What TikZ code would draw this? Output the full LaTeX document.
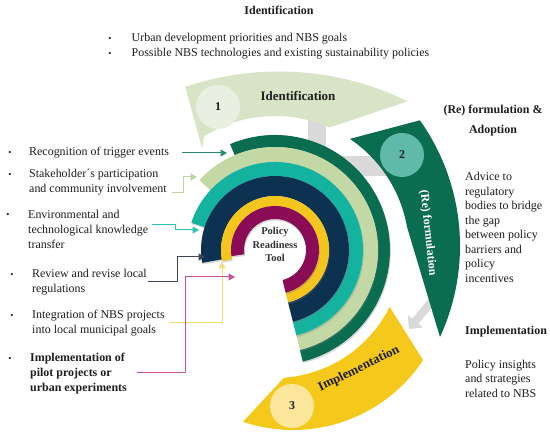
\documentclass[tikz,border=0pt]{standalone}
\usepackage{fontspec}
\setmainfont{Liberation Serif}
\usetikzlibrary{calc,arrows.meta,shadows}
\definecolor{segA}{HTML}{D7E4C5}
\definecolor{cirA}{HTML}{E9F0E1}
\definecolor{segB}{HTML}{0B6D50}
\definecolor{cirB}{HTML}{60B9A9}
\definecolor{segC}{HTML}{F5C91C}
\definecolor{cirC}{HTML}{FCE69C}
\definecolor{rDG}{HTML}{0B6D50}
\definecolor{rLG}{HTML}{C3D8A5}
\definecolor{rTE}{HTML}{13B39F}
\definecolor{rNV}{HTML}{0D3151}
\definecolor{rYE}{HTML}{F4C51D}
\definecolor{rMG}{HTML}{8B0C56}
\definecolor{aTrig}{HTML}{2A8A7A}
\definecolor{aStak}{HTML}{BBD59E}
\definecolor{aEnv}{HTML}{2DC3B0}
\definecolor{aRev}{HTML}{3D4757}
\definecolor{aInt}{HTML}{F7DB76}
\definecolor{aImp}{HTML}{C4519A}
\definecolor{grayc}{HTML}{D9D9D9}
\definecolor{txt}{HTML}{1E1E1E}
\definecolor{txtb}{HTML}{333333}
\newcommand\myring[4]{%
  \fill[#1,ringshade] ($(C)+(#4:#3)$) arc[start angle=#4,end angle=-76,radius=#3]
    -- ($(C)+(-76:#2)$) arc[start angle=-76,end angle=#4,radius=#2] -- cycle;}
\begin{document}
\begin{tikzpicture}[x=1bp,y=1bp,
  every node/.style={text=txt},
  ringshade/.style={drop shadow={shadow xshift=0.8bp,shadow yshift=-1.6bp,opacity=0.3}},
  lefttxt/.style={anchor=west,align=left,inner sep=0pt,font=\fontsize{12}{15}\selectfont},
  righttxt/.style={anchor=west,align=left,inner sep=0pt,font=\fontsize{12}{14.5}\selectfont},
  bul/.style={inner sep=0pt,font=\fontsize{9}{9}\selectfont},
  conn/.style={line width=1bp,-{Triangle[length=6.5bp,width=7bp]}},
  numc/.style={circle,inner sep=0pt,minimum size=44bp,font=\fontsize{12}{12}\selectfont\bfseries},
  segtxt/.style={font=\fontsize{13}{13}\selectfont\bfseries,inner sep=0pt},
]
\useasboundingbox (0,0) rectangle (550,435);
\fill[white] (0,0) rectangle (550,435);
\coordinate (C) at (275,185);
\coordinate (OA) at (279,71);
\coordinate (OB) at (243,189);
\coordinate (OC) at (293,161);

% gray connectors behind
\fill[grayc] (308,316) rectangle (326,259);
\fill[grayc] (308,259) rectangle (392,279);

% segment 1
\coordinate (a1in) at (202,287);
\fill[segA] ($(OA)+(108.7:292.5)$) arc[start angle=108.7,end angle=63.9,radius=292.5]
  -- ($(C)+(66:134)$) arc[start angle=66,end angle=122,radius=134] -- (a1in) -- cycle;
% segment 3
\fill[segC] ($(C)+(-26.4:128)$) -- ($(OC)+(-33.5:156)$) arc[start angle=-33.5,end angle=-108.7,radius=156]
  -- ($(C)+(-86:128)$) arc[start angle=-86,end angle=-26.4,radius=128] -- cycle;
% gray arrow between 2 and 3
\coordinate (g1) at (432,134);
\coordinate (g2) at (409,106);
\draw[grayc,line width=8bp,-{Triangle[length=10bp,width=19bp]}] (g1) -- (g2);
% segment 2
\fill[segB] ($(C)+(56:134)$) -- ($(OB)+(35.4:217)$) arc[start angle=35.4,end angle=-24.8,radius=217]
  -- ($(C)+(10:134)$) arc[start angle=10,end angle=56,radius=134] -- cycle;

\node[numc,fill=cirA] (n1) at (218,328) {1};
\node[numc,fill=cirB] (n2) at (402,280) {2};
\node[numc,fill=cirC] (n3) at (292,29) {3};
\node[segtxt] (s1t) at (298,339) {Identification};
\node[segtxt,text=white,rotate=-84,font=\fontsize{12}{12}\selectfont\bfseries] (s2t) at (428,202) {(Re) formulation};
\node[segtxt,rotate=26] (s3t) at (359,66) {Implementation};

% rings
\myring{rDG}{103}{115}{113}
\myring{rLG}{88}{103}{137}
\myring{rTE}{74}{88}{162}
\myring{rNV}{54}{74}{190}
\myring{rYE}{44}{54}{192}
\myring{rMG}{31}{44}{188}
\node[align=center,font=\fontsize{10.5}{13.5}\selectfont\bfseries,text=txtb] (prt) at (275,190.5) {Policy\\Readiness\\Tool};

% top
\node[font=\fontsize{12}{12}\selectfont\bfseries] (top) at (279,425) {Identification};
\node[bul] (tb1) at (110,396) {•};
\node[righttxt] (tt1) at (131.5,396) {Urban development priorities and NBS goals};
\node[bul] (tb2) at (110,381) {•};
\node[righttxt] (tt2) at (131.5,381) {Possible NBS technologies and existing sustainability policies};

% left
\node[bul] (b1) at (10,282) {•};
\node[lefttxt] (L1) at (29,282) {Recognition of trigger events};
\node[bul] (b2) at (10,260) {•};
\node[lefttxt] (L2) at (29,252.5) {Stakeholder´s participation\\and community involvement};
\node[bul] (b3) at (8,220) {•};
\node[lefttxt] (L3) at (28,205.5) {Environmental and\\technological knowledge\\transfer};
\node[bul] (b4) at (12,160) {•};
\node[lefttxt] (L4) at (32,153) {Review and revise local\\regulations};
\node[bul] (b5) at (12,119) {•};
\node[lefttxt] (L5) at (32,111.5) {Integration of NBS projects\\into local municipal goals};
\node[bul] (b6) at (10,76) {•};
\node[lefttxt,font=\fontsize{12}{15}\selectfont\bfseries] (L6) at (30,61.5) {Implementation of\\pilot projects or\\urban experiments};

% right
\node[align=center,font=\fontsize{12}{20}\selectfont\bfseries,inner sep=0pt] (radopt) at (493,314) {(Re) formulation \&\\Adoption};
\node[righttxt] (radv) at (465,207.6) {Advice to\\regulatory\\bodies to bridge\\the gap\\between policy\\barriers and\\policy\\incentives};
\node[righttxt,font=\fontsize{12}{14.5}\selectfont\bfseries] (rimp) at (465,103.3) {Implementation};
\node[righttxt] (rpol) at (465,56.3) {Policy insights\\and strategies\\related to NBS};

% connectors
\coordinate (c1s) at (182,282); \coordinate (c1e) at (227,282);
\draw[conn,aTrig] (c1s) -- (c1e);
\coordinate (c2s) at (172,242); \coordinate (c2k) at (183,242); \coordinate (c2e) at (197,258);
\draw[conn,aStak] (c2s) -- (c2k) |- (c2e);
\coordinate (c3s) at (152,210); \coordinate (c3k) at (175,210); \coordinate (c3e) at (199,205);
\draw[conn,aEnv] (c3s) -- (c3k) |- (c3e);
\coordinate (c4s) at (148,153); \coordinate (c4k) at (177,153); \coordinate (c4e) at (205,178);
\draw[conn,aRev] (c4s) -- (c4k) |- (c4e);
\coordinate (c5s) at (170,112); \coordinate (c5e) at (222,173);
\draw[conn,aInt] (c5s) -| (c5e);
\coordinate (c6s) at (137,62); \coordinate (c6k) at (185,62); \coordinate (c6e) at (235,158);
\draw[conn,aImp] (c6s) -- (c6k) |- (c6e);
\end{tikzpicture}
\end{document}
